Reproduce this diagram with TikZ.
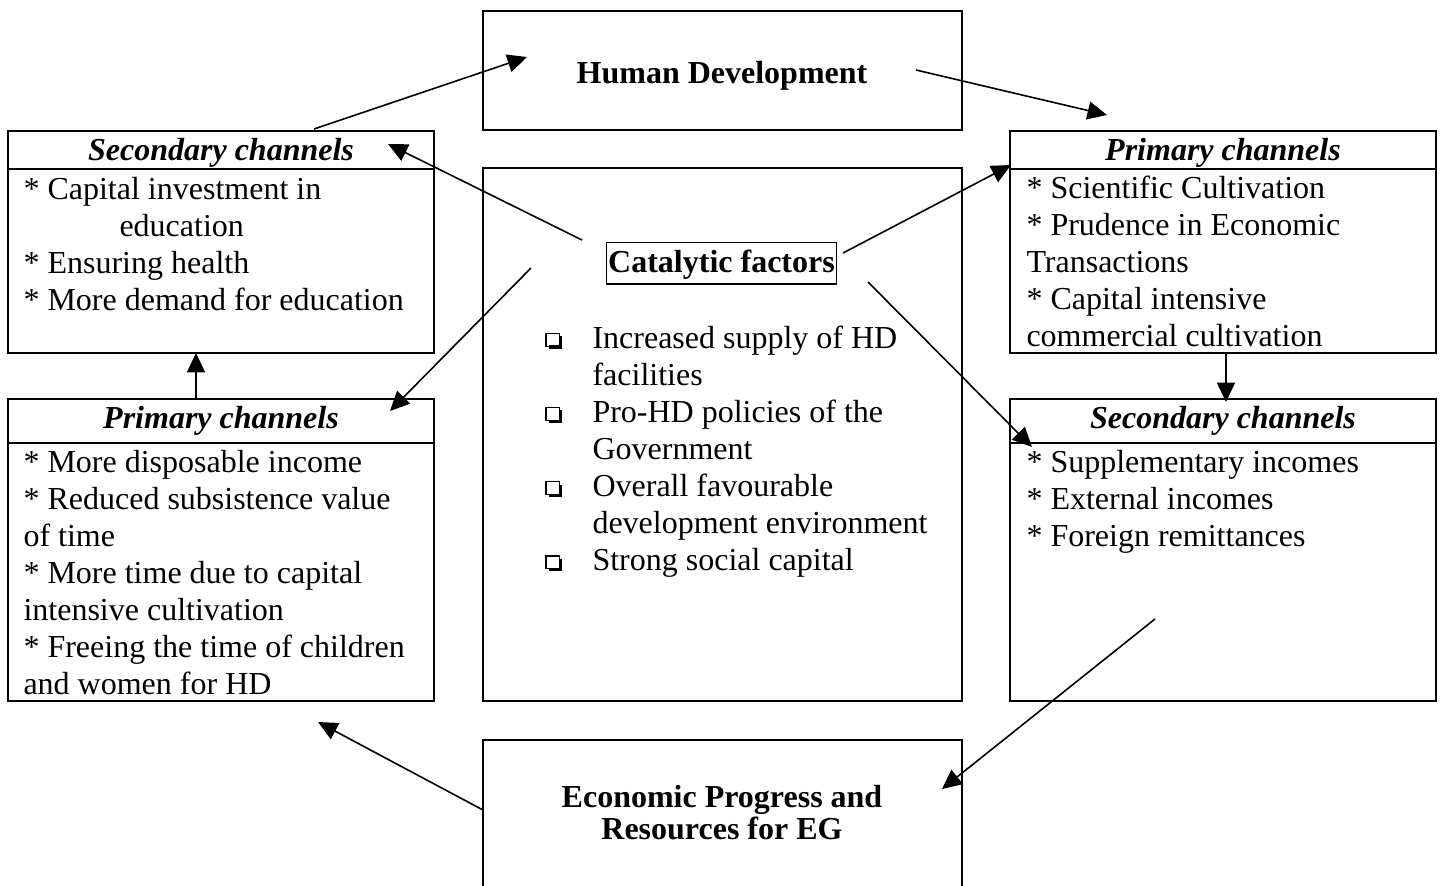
\documentclass[tikz,border=0pt]{standalone}
\usepackage{fontspec}
\setmainfont{Liberation Serif}
\usetikzlibrary{arrows.meta,fit,positioning}

% shadowed square bullet
\newcommand\sqbullet{\setlength{\unitlength}{1pt}\begin{picture}(5.8,5.4)
  \linethickness{0.45pt}
  \put(0,1.1){\framebox(4.6,4.3){}}
  \put(1.0,0){\rule{4.8pt}{1.15pt}}
  \put(4.65,0){\rule{1.15pt}{4.6pt}}
\end{picture}}
\newcommand\topstrut{\rule{0pt}{9pt}}
\newcommand\sqitem{\makebox[17.25pt][l]{\sqbullet}}
\newcommand\sqgap{\makebox[17.25pt][l]{}}

\tikzset{
  box/.style={draw, line width=0.75pt, inner sep=0pt},
  headtext/.style={font=\fontsize{12}{13.9}\selectfont\bfseries\itshape, anchor=base, inner sep=0pt},
  bodytext/.style={font=\fontsize{12}{13.9}\selectfont, align=left, anchor=north west, inner sep=0pt},
  titletext/.style={font=\fontsize{12}{12}\selectfont\bfseries, align=center, inner sep=0pt},
  link/.style={-{Triangle[length=7.3pt,width=6.8pt]}, line width=0.6pt},
}

\begin{document}
\begin{tikzpicture}[x=0.375pt, y=-0.375pt]
    \useasboundingbox (0,0) rectangle (1441,885);

    % boxes
    \node[box, fit={(483,11) (962,130)}] (hd) {};
    \node[box, fit={(483,168) (962,701)}] (cat) {};
    \node[box, fit={(483,740) (962,888)}] (econ) {};

    \node[box, fit={(8,131) (434,169)}] (lsechead) {};
    \node[box, fit={(8,169) (434,353)}] (lsec) {};
    \node[box, fit={(8,399) (434,443)}] (lprihead) {};
    \node[box, fit={(8,443) (434,701)}] (lpri) {};

    \node[box, fit={(1010,131) (1436,169)}] (rprihead) {};
    \node[box, fit={(1010,169) (1436,353)}] (rpri) {};
    \node[box, fit={(1010,399) (1436,443)}] (rsechead) {};
    \node[box, fit={(1010,443) (1436,701)}] (rsec) {};

    % titles
    \node[titletext, anchor=base] (hdtext) at (722,83) {Human Development};
    \node[titletext, anchor=north] (econtext) at (722,783) {\topstrut Economic Progress and\\Resources for EG};
    \node[titletext, draw, line width=0.6pt, anchor=base, inner xsep=0.7pt, inner ysep=1pt,
          text height=10pt, text depth=3.4pt] (catfac) at (721.5,272) {Catalytic factors};

    \node[headtext] (lsectitle) at (221,160) {Secondary channels};
    \node[headtext] (lprititle) at (221,428) {Primary channels};
    \node[headtext] (rprititle) at (1223,160) {Primary channels};
    \node[headtext] (rsectitle) at (1223,428) {Secondary channels};

    % lists
    \node[bodytext] (lseclist) at (23,175) {\topstrut* Capital investment in\\
        \hspace*{36pt}education\\* Ensuring health\\* More demand for education};
    \node[bodytext] (lprilist) at (23,448) {\topstrut* More disposable income\\
        * Reduced subsistence value\\of time\\* More time due to capital\\
        intensive cultivation\\* Freeing the time of children\\and women for HD};
    \node[bodytext] (rprilist) at (1026,174) {\topstrut* Scientific Cultivation\\
        * Prudence in Economic\\Transactions\\* Capital intensive\\commercial cultivation};
    \node[bodytext] (rseclist) at (1026,448) {\topstrut* Supplementary incomes\\
        * External incomes\\* Foreign remittances};
    \node[bodytext] (catlist) at (546,324) {\topstrut\sqitem Increased supply of HD\\
        \sqgap facilities\\\sqitem Pro-HD policies of the\\\sqgap Government\\
        \sqitem Overall favourable\\\sqgap development environment\\
        \sqitem Strong social capital};

    % arrow ends
    \coordinate (a1s) at (314,129);  \coordinate (a1e) at (527,57);
    \coordinate (a2s) at (916,70);   \coordinate (a2e) at (1107,115);
    \coordinate (a3s) at (582,240);  \coordinate (a3e) at (388,144);
    \coordinate (a4s) at (843,253);  \coordinate (a4e) at (1011,165);
    \coordinate (a5s) at (531,268);  \coordinate (a5e) at (390,411);
    \coordinate (a6s) at (868,282);  \coordinate (a6e) at (1032,447);
    \coordinate (a7s) at (196,399);  \coordinate (a7e) at (196,353);
    \coordinate (a8s) at (1226,353); \coordinate (a8e) at (1226,402);
    \coordinate (a9s) at (1155,619); \coordinate (a9e) at (942,789);
    \coordinate (a10s) at (483,810); \coordinate (a10e) at (318,722);

    \draw[link] (a1s) -- (a1e);
    \draw[link] (a2s) -- (a2e);
    \draw[link] (a3s) -- (a3e);
    \draw[link] (a4s) -- (a4e);
    \draw[link] (a5s) -- (a5e);
    \draw[link] (a6s) -- (a6e);
    \draw[link] (a7s) -- (a7e);
    \draw[link] (a8s) -- (a8e);
    \draw[link] (a9s) -- (a9e);
    \draw[link] (a10s) -- (a10e);
\end{tikzpicture}
\end{document}
